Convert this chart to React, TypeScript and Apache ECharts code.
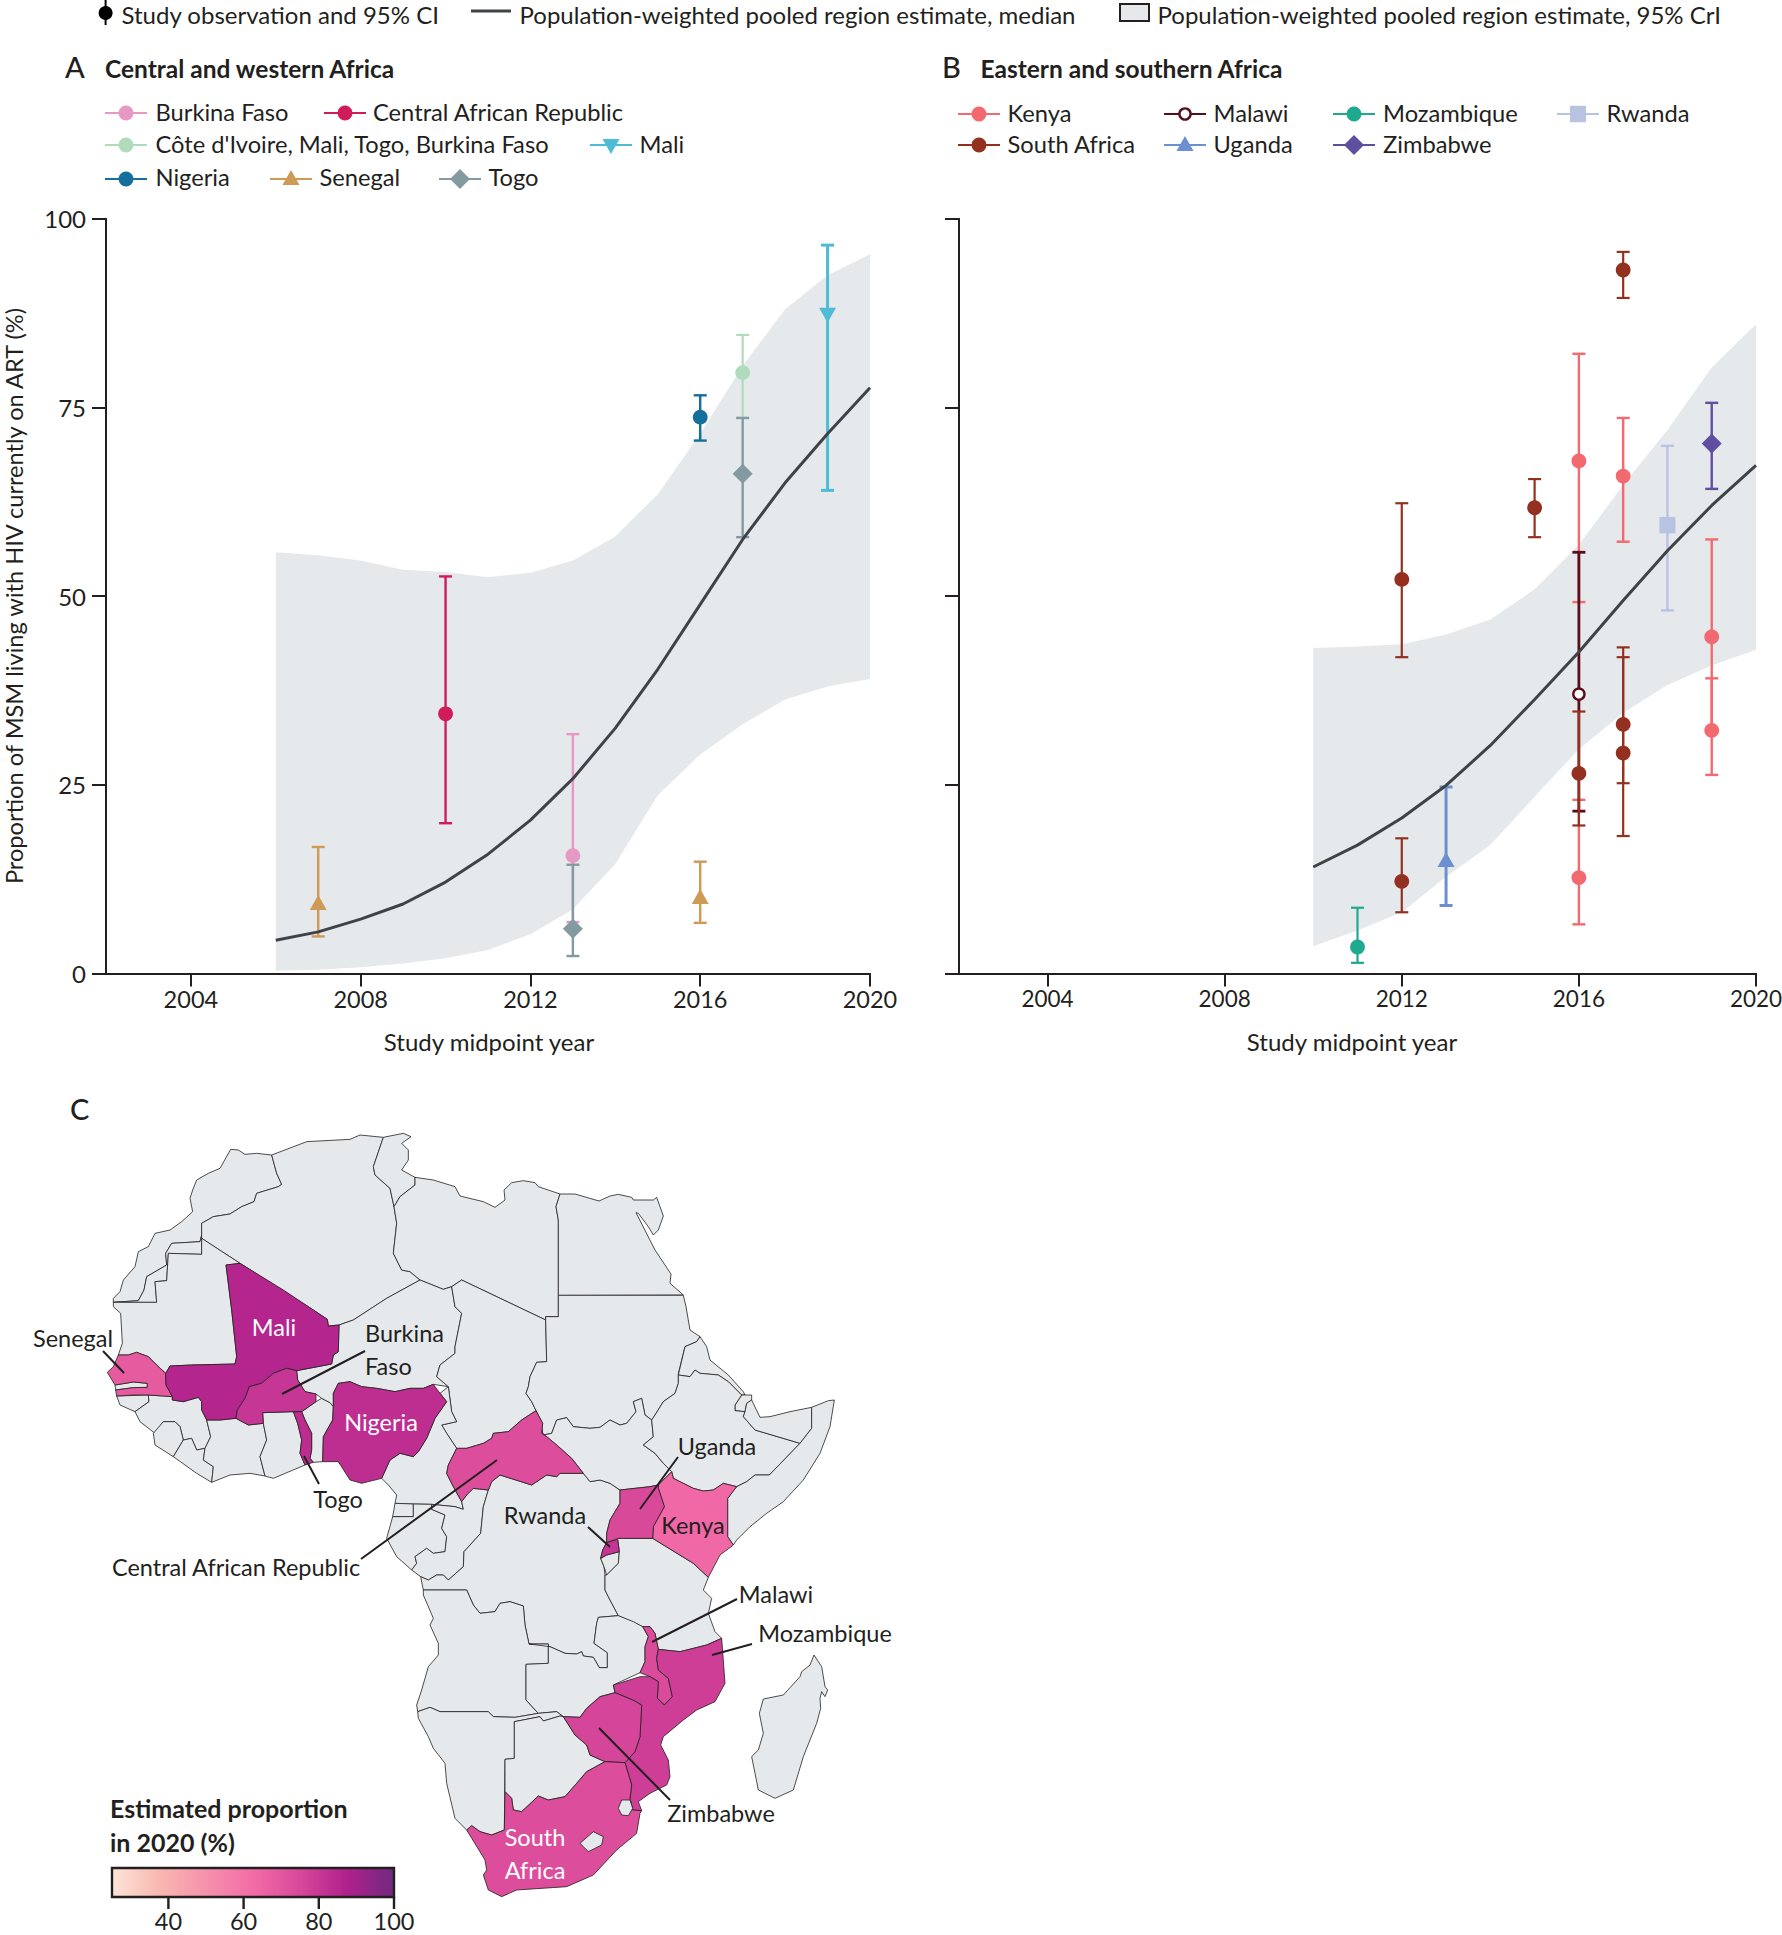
import React, { useEffect, useRef } from "react";
import * as echarts from "echarts";

const FONT = "Lato";
const INK = "#231f20";
const BAND = "#e6e9ec";

// Panel A – pooled estimate
const yearsA = [2006, 2007, 2008, 2009, 2010, 2011, 2012, 2013, 2014, 2015, 2016, 2017, 2018, 2019, 2020];
const medianA = [4.4, 5.5, 7.2, 9.2, 12.1, 15.8, 20.3, 25.8, 32.5, 40.3, 48.9, 57.5, 65, 71.5, 77.6];
const lowerA = [0.35, 0.5, 0.8, 1.3, 2, 3.1, 5.2, 8.5, 14.5, 23.6, 29, 33, 36.3, 38, 39];
const upperA = [55.8, 55.4, 54.7, 53.5, 53.2, 52.5, 53.1, 54.7, 57.9, 63.5, 71.5, 80.5, 88, 92.5, 95.3];

// Panel B – pooled estimate
const yearsB = [2010, 2011, 2012, 2013, 2014, 2015, 2016, 2017, 2018, 2019, 2020];
const medianB = [14.1, 17, 20.6, 24.9, 30.2, 36.3, 42.6, 49.4, 56, 62, 67.3];
const lowerB = [3.6, 5.7, 8.1, 12.8, 17, 23.4, 29.7, 34.5, 38.2, 40.8, 42.9];
const upperB = [43.1, 43.3, 43.6, 44.9, 46.9, 50.9, 56.8, 64.7, 72, 80.3, 86];

// Observations: [year, estimate, lower CI, upper CI]
const burkinaFaso = [[2013, 15.6, 6.8, 31.7]];
const centralAfricanRepublic = [[2010, 34.4, 19.9, 52.6]];
const coteGroup = [[2017, 79.6, 73.6, 84.6]];
const mali = [[2019, 87.4, 64, 96.5]];
const nigeria = [[2016, 73.7, 70.6, 76.6]];
const senegal = [[2007, 9.2, 4.9, 16.75], [2016, 10, 6.7, 14.8]];
const togo = [[2013, 5.9, 2.3, 14.4], [2017, 66.2, 57.8, 73.6]];
const kenya = [[2016, 67.9, 49.2, 82.1], [2016, 12.7, 6.5, 23], [2017, 65.9, 57.2, 73.6], [2019, 44.6, 32.2, 57.5], [2019, 32.2, 26.3, 39.1]];
const malawi = [[2016, 37, 21.5, 55.8]];
const mozambique = [[2011, 3.5, 1.4, 8.7]];
const rwanda = [[2018, 59.4, 48.1, 69.9]];
const southAfrica = [[2012, 52.2, 41.9, 62.3], [2012, 12.2, 8.1, 17.9], [2015, 61.7, 57.8, 65.5], [2016, 26.5, 19.6, 34.7], [2017, 93.2, 89.5, 95.6], [2017, 33, 25.2, 43.2], [2017, 29.2, 18.2, 41.9]];
const uganda = [[2013, 14.9, 9, 24.7]];
const zimbabwe = [[2019, 70.2, 64.2, 75.6]];

const xTicks = [2004, 2008, 2012, 2016, 2020];
const yTicks = [0, 25, 50, 75, 100];
const scaleTicks = [40, 60, 80, 100];

// Estimated proportion in 2020, by country
const estimateNames = ["Kenya", "Senegal", "Central African Republic", "South Africa", "Uganda", "Zimbabwe", "Mozambique", "Malawi", "Burkina Faso", "Rwanda", "Nigeria", "Togo", "Mali"];
const estimateValues = [64, 68.5, 73, 73, 74.5, 76, 78, 74, 80.5, 81, 83, 83.5, 86];
const scaleColors = ["#FDE5D8", "#F8B8B0", "#F592AD", "#F36CA6", "#D8489A", "#B0208C", "#702A80"];

// Map geometry, map units (three units per pixel)
type P = number[];
const shiftE = (pts: P[]) => pts.map(([x, y]) => [x + 1350, y + 1230]);
const countries: [string, P[]][] = [
  ["Morocco", [[815,195],[770,190],[735,193],[715,180],[692,178],[660,235],[625,250],[590,270],[578,300],[570,325],[578,365],[545,395],[510,420],[465,430],[445,470],[415,485],[405,530],[370,570],[360,605],[340,625],[340,637],[415,632],[432,600],[440,560],[500,525],[497,490],[515,460],[600,455],[605,435],[605,400],[640,380],[690,372],[725,350],[762,335],[770,310],[835,290],[845,283],[830,250]]],
  ["Western Sahara", [[340,637],[415,632],[432,600],[440,560],[500,525],[497,490],[515,460],[600,455],[605,435],[605,493],[505,490],[500,572],[465,575],[470,637]]],
  ["Algeria", [[815,195],[830,250],[845,283],[835,290],[770,310],[762,335],[725,350],[690,372],[640,380],[605,400],[605,445],[720,520],[940,660],[982,688],[985,708],[1017,705],[1060,690],[1160,625],[1260,570],[1230,545],[1205,540],[1180,490],[1190,400],[1182,350],[1170,295],[1125,255],[1120,230],[1150,142],[1080,135],[1050,148],[920,155]]],
  ["Tunisia", [[1150,142],[1210,130],[1233,140],[1205,160],[1225,180],[1225,210],[1205,240],[1245,262],[1245,285],[1200,320],[1182,350],[1170,295],[1125,255],[1120,230]]],
  ["Libya", [[1245,262],[1300,270],[1365,290],[1380,318],[1450,335],[1485,352],[1515,330],[1512,300],[1535,278],[1570,272],[1605,278],[1615,290],[1680,312],[1668,350],[1675,390],[1675,616],[1675,680],[1637,680],[1637,690],[1385,570],[1355,590],[1330,598],[1260,570],[1230,545],[1205,540],[1180,490],[1190,400],[1182,350],[1200,320],[1245,285]]],
  ["Egypt", [[1680,312],[1725,312],[1797,333],[1830,318],[1855,313],[1895,322],[1900,330],[1960,330],[1970,322],[1990,378],[1975,420],[1960,435],[1945,410],[1915,370],[1908,368],[1965,480],[2013,552],[2010,580],[2050,615],[1675,616],[1675,390],[1668,350]]],
  ["Mauritania", [[340,637],[470,637],[465,575],[500,572],[505,490],[605,493],[605,445],[720,520],[678,525],[695,660],[710,800],[705,822],[575,825],[510,828],[497,850],[470,825],[445,800],[410,787],[385,795],[355,795],[367,760],[362,670],[340,650]]],
  ["Gambia", [[345,885],[400,876],[442,880],[442,892],[400,893],[347,900]]],
  ["Guinea-Bissau", [[350,918],[445,915],[447,935],[405,965],[360,945]]],
  ["Guinea", [[445,915],[490,918],[517,920],[517,930],[550,935],[595,922],[605,935],[605,960],[620,990],[632,1040],[615,1075],[590,1080],[575,1045],[550,1050],[540,1010],[525,995],[490,995],[465,1030],[420,995],[405,965],[447,935]]],
  ["Sierra Leone", [[460,1030],[490,995],[525,995],[540,1010],[550,1050],[520,1100],[465,1065]]],
  ["Liberia", [[520,1100],[550,1050],[575,1045],[590,1080],[615,1075],[610,1110],[640,1130],[635,1177],[590,1150]]],
  ["Côte d'Ivoire", [[620,990],[660,990],[708,985],[745,1005],[790,1000],[800,1050],[780,1100],[795,1158],[750,1150],[690,1155],[635,1177],[640,1130],[610,1110],[615,1075],[632,1040]]],
  ["Ghana", [[790,1000],[800,1050],[780,1100],[795,1158],[820,1165],[915,1125],[900,1090],[905,1050],[893,1000],[880,965],[788,968]]],
  ["Benin", [[905,965],[948,935],[965,925],[990,938],[1000,950],[998,990],[970,1040],[968,1115],[940,1117],[930,1105],[935,1080],[935,1030],[915,990]]],
  ["Niger", [[1017,705],[1060,690],[1160,625],[1260,570],[1330,598],[1355,590],[1365,650],[1385,670],[1365,770],[1365,790],[1320,825],[1310,860],[1345,890],[1300,883],[1270,895],[1230,895],[1185,905],[1130,895],[1085,890],[1050,875],[1015,880],[1000,910],[1000,950],[990,938],[965,925],[948,912],[915,905],[893,870],[890,842],[995,822],[1000,795],[1015,785]]],
  ["Chad", [[1355,590],[1385,570],[1637,690],[1640,815],[1610,817],[1590,860],[1585,890],[1578,910],[1595,935],[1608,962],[1565,990],[1525,1025],[1480,1030],[1475,1045],[1450,1060],[1400,1075],[1370,1075],[1340,1030],[1325,1005],[1370,995],[1355,965],[1345,890],[1310,860],[1320,825],[1365,790],[1365,770],[1385,670],[1365,650]]],
  ["Cameroon", [[1345,890],[1320,910],[1340,935],[1305,985],[1280,1045],[1255,1085],[1240,1100],[1200,1090],[1170,1110],[1145,1165],[1165,1185],[1190,1215],[1185,1240],[1240,1242],[1295,1243],[1365,1250],[1390,1258],[1385,1235],[1360,1190],[1340,1150],[1345,1125],[1370,1075],[1340,1030],[1325,1005],[1370,995],[1355,965]]],
  ["Equatorial Guinea", [[1185,1240],[1240,1242],[1240,1280],[1178,1280]]],
  ["Gabon", [[1178,1280],[1240,1280],[1240,1242],[1295,1243],[1295,1258],[1335,1275],[1325,1315],[1340,1340],[1335,1385],[1300,1390],[1280,1375],[1245,1400],[1250,1420],[1235,1440],[1190,1400],[1160,1345]]],
  ["Congo", [[1295,1243],[1365,1250],[1390,1258],[1385,1235],[1400,1215],[1420,1195],[1465,1200],[1450,1250],[1442,1330],[1392,1385],[1390,1430],[1345,1470],[1330,1455],[1310,1455],[1285,1470],[1262,1460],[1235,1440],[1250,1420],[1245,1400],[1280,1375],[1300,1390],[1335,1385],[1340,1340],[1325,1315],[1335,1275],[1295,1258]]],
  ["Democratic Republic of the Congo", [[1465,1200],[1475,1175],[1500,1155],[1595,1185],[1640,1155],[1670,1160],[1680,1150],[1750,1150],[1770,1175],[1800,1170],[1830,1180],[1860,1200],[1860,1240],[1830,1290],[1820,1330],[1820,1358],[1808,1380],[1802,1405],[1812,1430],[1815,1455],[1815,1500],[1830,1530],[1855,1577],[1795,1582],[1790,1600],[1782,1660],[1822,1688],[1822,1733],[1798,1733],[1780,1702],[1750,1698],[1745,1685],[1730,1692],[1695,1690],[1650,1670],[1587,1662],[1575,1605],[1570,1548],[1530,1535],[1500,1540],[1485,1565],[1440,1570],[1420,1545],[1400,1500],[1270,1500],[1262,1460],[1285,1470],[1310,1455],[1330,1455],[1345,1470],[1390,1430],[1392,1385],[1442,1330],[1450,1250]]],
  ["Sudan", [[1675,616],[2050,616],[2058,650],[2070,720],[2100,740],[2090,755],[2055,770],[2035,850],[2035,880],[2025,910],[1990,935],[1965,975],[1955,990],[1935,975],[1925,925],[1900,935],[1908,965],[1880,1000],[1860,1005],[1830,990],[1800,1012],[1770,1015],[1720,1010],[1700,983],[1670,990],[1655,1030],[1630,1035],[1608,962],[1595,935],[1578,910],[1585,890],[1590,860],[1610,817],[1640,815],[1637,690],[1637,680],[1675,680]]],
  ["South Sudan", [[1608,962],[1630,1035],[1655,1030],[1670,990],[1700,983],[1720,1010],[1770,1015],[1800,1012],[1830,990],[1860,1005],[1880,1000],[1908,965],[1900,935],[1925,925],[1935,975],[1955,990],[1960,1040],[1930,1065],[1965,1090],[1990,1120],[2015,1145],[1975,1185],[1950,1190],[1860,1200],[1830,1180],[1800,1170],[1770,1175],[1750,1150],[1715,1105],[1670,1065],[1640,1040],[1625,1030],[1628,1000]]],
  ["Eritrea", [[2100,740],[2120,770],[2130,810],[2185,855],[2230,905],[2235,915],[2225,915],[2185,875],[2155,855],[2100,850],[2085,840],[2070,860],[2035,855],[2055,770],[2090,755]]],
  ["Djibouti", [[2225,915],[2255,915],[2255,930],[2240,940],[2235,965],[2205,962],[2205,945]]],
  ["Ethiopia", [[2035,855],[2070,860],[2085,840],[2100,850],[2155,855],[2185,875],[2225,915],[2205,945],[2205,962],[2235,965],[2230,980],[2265,1020],[2400,1060],[2308,1155],[2265,1155],[2240,1175],[2210,1190],[2170,1180],[2140,1200],[2110,1203],[2080,1195],[2020,1165],[2015,1145],[1990,1120],[1965,1090],[1930,1065],[1960,1040],[1955,990],[1965,975],[1990,935],[2025,910],[2035,880]]],
  ["Somaliland", [[2255,930],[2280,982],[2310,980],[2370,965],[2435,952],[2435,1015],[2400,1060],[2265,1020],[2230,980],[2235,965],[2240,940]]],
  ["Somalia", [[2435,952],[2485,932],[2503,930],[2490,1010],[2460,1090],[2410,1170],[2350,1235],[2300,1270],[2250,1310],[2210,1350],[2200,1365],[2183,1340],[2183,1225],[2210,1190],[2240,1175],[2265,1155],[2308,1155],[2400,1060],[2435,1015]]],
  ["Burundi", [[1802,1405],[1820,1395],[1858,1385],[1855,1420],[1820,1455],[1812,1430]]],
  ["Tanzania", [[1855,1345],[1958,1345],[2080,1420],[2125,1462],[2110,1500],[2135,1525],[2125,1570],[2145,1625],[2165,1645],[2120,1665],[2040,1685],[1975,1678],[1965,1630],[1950,1610],[1928,1610],[1855,1577],[1830,1530],[1815,1500],[1815,1455],[1820,1455],[1855,1420],[1858,1385],[1853,1348]]],
  ["Angola", [[1270,1515],[1270,1500],[1400,1500],[1420,1545],[1440,1570],[1485,1565],[1500,1540],[1530,1535],[1570,1548],[1575,1605],[1587,1662],[1645,1662],[1645,1720],[1578,1723],[1578,1830],[1615,1870],[1545,1882],[1480,1880],[1465,1865],[1320,1865],[1290,1852],[1253,1865],[1250,1845],[1265,1800],[1285,1730],[1315,1695],[1315,1660],[1290,1605],[1300,1585]]],
  ["Zambia", [[1587,1662],[1650,1670],[1695,1690],[1730,1692],[1745,1685],[1750,1698],[1780,1702],[1798,1733],[1822,1733],[1822,1688],[1782,1660],[1790,1600],[1795,1582],[1855,1577],[1900,1595],[1928,1610],[1945,1640],[1935,1670],[1935,1715],[1920,1748],[1840,1785],[1845,1808],[1800,1820],[1760,1855],[1740,1882],[1690,1880],[1670,1865],[1615,1870],[1578,1830],[1578,1723],[1645,1720],[1645,1662]]],
  ["Namibia", [[1253,1865],[1290,1852],[1320,1865],[1465,1865],[1480,1880],[1545,1882],[1615,1870],[1670,1865],[1690,1880],[1680,1878],[1630,1893],[1620,1880],[1543,1895],[1543,2005],[1515,2008],[1513,2220],[1475,2235],[1440,2225],[1415,2207],[1400,2220],[1365,2185],[1340,2080],[1335,2020],[1300,1975],[1285,1940],[1255,1885]]],
  ["Botswana", [[1515,2105],[1515,2008],[1543,2005],[1543,1895],[1620,1880],[1630,1893],[1680,1878],[1690,1880],[1725,1935],[1760,1965],[1770,1995],[1815,2015],[1760,2045],[1730,2080],[1695,2120],[1645,2130],[1615,2118],[1565,2165],[1540,2160],[1535,2125]]],
  ["Madagascar", shiftE([[1092,465],[1115,500],[1125,560],[1133,570],[1125,590],[1115,575],[1110,595],[1112,625],[1100,670],[1060,770],[1030,870],[975,895],[925,870],[915,820],[905,770],[925,750],[940,700],[928,640],[940,597],[1000,585],[1050,530],[1055,515],[1080,495]])],
  ["Senegal", [[355,795],[385,795],[410,787],[445,800],[470,825],[497,850],[498,885],[517,920],[490,918],[445,915],[400,915],[350,918],[347,900],[400,893],[442,892],[442,880],[400,876],[345,885],[322,847],[340,830]]],
  ["Mali", [[678,525],[720,520],[850,600],[940,660],[982,688],[985,708],[1017,705],[1015,785],[1000,795],[995,822],[890,842],[860,835],[820,850],[785,880],[748,890],[735,925],[712,960],[708,985],[660,990],[620,990],[605,960],[605,935],[595,922],[550,935],[517,930],[517,920],[498,885],[497,850],[510,828],[575,825],[705,822],[710,800],[695,660]]],
  ["Burkina Faso", [[890,842],[860,835],[820,850],[785,880],[748,890],[735,925],[712,960],[708,985],[745,1005],[790,1000],[788,968],[880,965],[905,965],[948,935],[948,912],[915,905],[893,870]]],
  ["Togo", [[880,965],[905,965],[915,990],[935,1030],[935,1080],[930,1105],[940,1117],[915,1125],[900,1090],[905,1050],[893,1000]]],
  ["Nigeria", [[1015,880],[1050,875],[1085,890],[1130,895],[1185,905],[1230,895],[1270,895],[1300,883],[1320,910],[1340,935],[1305,985],[1280,1045],[1255,1085],[1240,1100],[1200,1090],[1170,1110],[1145,1165],[1085,1180],[1050,1170],[1015,1115],[968,1115],[970,1040],[998,990],[1000,950],[1000,910]]],
  ["Central African Republic", [[1608,962],[1628,1000],[1625,1030],[1640,1040],[1670,1065],[1715,1105],[1750,1150],[1680,1150],[1670,1160],[1640,1155],[1595,1185],[1500,1155],[1475,1175],[1465,1200],[1420,1195],[1400,1215],[1385,1235],[1360,1190],[1340,1150],[1345,1125],[1370,1075],[1400,1075],[1450,1060],[1475,1045],[1480,1030],[1525,1025],[1565,990]]],
  ["Kenya", [[1975,1185],[2015,1145],[2020,1165],[2080,1195],[2110,1203],[2140,1200],[2170,1180],[2210,1190],[2183,1225],[2183,1340],[2200,1365],[2160,1395],[2125,1462],[2080,1420],[1958,1345],[1960,1310],[1993,1250],[1975,1195]]],
  ["Uganda", [[1860,1200],[1950,1190],[1975,1185],[1975,1195],[1993,1250],[1960,1310],[1958,1345],[1855,1345],[1820,1358],[1820,1330],[1830,1290],[1860,1240]]],
  ["Rwanda", [[1820,1358],[1853,1348],[1858,1385],[1820,1395],[1802,1405],[1808,1380]]],
  ["Malawi", shiftE([[578,380],[600,380],[615,400],[625,448],[620,475],[625,510],[655,535],[667,590],[643,615],[622,595],[625,545],[600,530],[570,518],[585,485],[585,440],[595,410]])],
  ["Mozambique", shiftE([[815,415],[825,550],[795,605],[740,630],[700,660],[640,710],[632,735],[655,780],[660,830],[650,855],[600,880],[565,905],[575,932],[548,930],[540,895],[545,855],[525,788],[555,755],[570,710],[575,615],[548,600],[495,578],[490,555],[570,530],[600,530],[625,545],[622,595],[643,615],[667,590],[655,535],[625,510],[620,475],[625,448],[690,455],[770,435]])],
  ["Zimbabwe", shiftE([[340,650],[390,652],[410,625],[450,590],[495,578],[548,600],[575,615],[570,710],[555,755],[525,788],[465,785],[420,765],[410,735],[375,705]])],
  ["South Africa", shiftE([[165,875],[185,895],[190,930],[215,935],[265,888],[295,900],[345,890],[380,850],[410,815],[465,785],[525,788],[545,855],[540,895],[548,930],[575,932],[570,940],[560,1000],[500,1050],[430,1125],[350,1160],[200,1170],[155,1190],[115,1170],[100,1125],[110,1110],[105,1080],[50,990],[65,977],[90,995],[125,1005],[163,990]])],
  ["Lesotho", shiftE([[390,1030],[430,995],[460,1010],[455,1035],[415,1055]])],
  ["Eswatini", shiftE([[515,900],[540,900],[548,925],[535,947],[515,945],[505,925]])],
];

function marker(shape: string, cx: number, cy: number, color: string): any {
  const style = { fill: color };
  if (shape === "triangle") return { type: "polygon", shape: { points: [[cx, cy - 9], [cx + 8.5, cy + 6], [cx - 8.5, cy + 6]] }, style };
  if (shape === "down") return { type: "polygon", shape: { points: [[cx, cy + 9], [cx + 8.5, cy - 6], [cx - 8.5, cy - 6]] }, style };
  if (shape === "diamond") return { type: "polygon", shape: { points: [[cx, cy - 10], [cx + 10, cy], [cx, cy + 10], [cx - 10, cy]] }, style };
  if (shape === "square") return { type: "rect", shape: { x: cx - 8, y: cy - 8.2, width: 16, height: 16.4 }, style };
  if (shape === "hollow") return { type: "circle", shape: { cx, cy, r: 5.6 }, style: { fill: "#fff", stroke: color, lineWidth: 2.4 } };
  return { type: "circle", shape: { cx, cy, r: 7.4 }, style };
}

function errorSeries(name: string, data: number[][], shape: string, color: string, lw: number, gridIndex: number) {
  return {
    type: "custom",
    name,
    xAxisIndex: gridIndex,
    yAxisIndex: gridIndex,
    coordinateSystem: "cartesian2d",
    clip: false,
    silent: true,
    data,
    encode: { x: 0, y: [1, 2, 3] },
    renderItem: (_: any, api: any) => {
      const x = api.value(0);
      const c = api.coord([x, api.value(1)]);
      const lo = api.coord([x, api.value(2)]);
      const hi = api.coord([x, api.value(3)]);
      const st = { stroke: color, lineWidth: lw };
      return {
        type: "group",
        children: [
          { type: "line", shape: { x1: c[0], y1: lo[1], x2: c[0], y2: hi[1] }, style: st },
          { type: "line", shape: { x1: c[0] - 6.5, y1: lo[1], x2: c[0] + 6.5, y2: lo[1] }, style: st },
          { type: "line", shape: { x1: c[0] - 6.5, y1: hi[1], x2: c[0] + 6.5, y2: hi[1] }, style: st },
          marker(shape, c[0], c[1], color),
        ],
      };
    },
  };
}

function bandSeries(years: number[], lower: number[], upper: number[], gridIndex: number) {
  return {
    type: "custom",
    name: "Population-weighted pooled region estimate, 95% CrI",
    xAxisIndex: gridIndex,
    yAxisIndex: gridIndex,
    silent: true,
    clip: false,
    data: years.map((y, i) => [y, lower[i], upper[i]]),
    encode: { x: 0, y: [1, 2] },
    renderItem: (p: any, api: any) => {
      if (p.dataIndex !== 0) return null;
      const top = years.map((y, i) => api.coord([y, upper[i]]));
      const bottom = years.map((y, i) => api.coord([y, lower[i]])).reverse();
      return { type: "polygon", shape: { points: top.concat(bottom) }, style: { fill: BAND } };
    },
  };
}

function medianSeries(years: number[], median: number[], gridIndex: number) {
  return {
    type: "line",
    name: "Population-weighted pooled region estimate, median",
    xAxisIndex: gridIndex,
    yAxisIndex: gridIndex,
    data: years.map((y, i) => [y, median[i]]),
    showSymbol: false,
    silent: true,
    lineStyle: { color: "#3f4347", width: 3 },
  };
}

const text = (x: number, y: number, t: string, opt: any = {}) => ({
  type: "text",
  z: 20,
  silent: true,
  x,
  y,
  style: {
    text: t,
    fill: opt.fill || INK,
    font: `${opt.weight || "normal"} ${opt.size || 23.5}px ${FONT}`,
    textAlign: opt.align || "left",
    textVerticalAlign: "middle",
    verticalAlign: "middle",
  },
});

const seg = (x1: number, y1: number, x2: number, y2: number, lw = 2, color = INK) => ({
  type: "line",
  z: 20,
  silent: true,
  shape: { x1, y1, x2, y2 },
  style: { stroke: color, lineWidth: lw },
});

const legendItem = (x: number, y: number, textX: number, label: string, shape: string, color: string, textY = y - 1) => [
  seg(x, y, x + 42, y, 2.2, color),
  { ...marker(shape, x + 21, y, color), z: 21, silent: true },
  text(textX, textY, label, { size: 23.7 }),
];

function axes(showY: boolean, gridIndex: number, labelSize: number, namePadding: number[]) {
  const lineStyle = { color: INK, width: 2 };
  return {
    x: {
      type: "value",
      gridIndex,
      min: 2002,
      max: 2020,
      interval: 2,
      splitLine: { show: false },
      axisLine: { show: true, onZero: false, lineStyle },
      axisTick: { show: true, length: 13, lineStyle, customValues: xTicks },
      axisLabel: { show: true, color: INK, fontFamily: FONT, fontSize: labelSize, margin: 14, customValues: xTicks, showMaxLabel: true, hideOverlap: false, formatter: (v: number) => String(v) },
      name: "Study midpoint year",
      nameLocation: "middle",
      nameGap: 56,
      nameTextStyle: { color: INK, fontFamily: FONT, fontSize: 24, padding: namePadding },
    },
    y: {
      type: "value",
      gridIndex,
      min: 0,
      max: 100,
      interval: 25,
      splitLine: { show: false },
      axisLine: { show: true, lineStyle },
      axisTick: { show: true, length: 14, lineStyle },
      axisLabel: { show: showY, color: INK, fontFamily: FONT, fontSize: 24, margin: 20, customValues: yTicks },
      name: showY ? "Proportion of MSM living with HIV currently on ART (%)" : "",
      nameLocation: "middle",
      nameGap: 80,
      nameRotate: 90,
      nameTextStyle: { color: INK, fontFamily: FONT, fontSize: 23.6 },
    },
  };
}

export default function App() {
  const ref = useRef<HTMLDivElement>(null);
  useEffect(() => {
    const chart = echarts.init(ref.current!, null, { renderer: "svg" });
    const features = countries.map(([name, pts]) => ({
      type: "Feature",
      properties: { name },
      geometry: { type: "Polygon", coordinates: [pts] },
    }));
    echarts.registerMap("africaStudy", { type: "FeatureCollection", features } as any);
    const all = countries.flatMap((c) => c[1]);
    const minU = Math.min(...all.map((p) => p[0]));
    const maxU = Math.max(...all.map((p) => p[0]));
    const minV = Math.min(...all.map((p) => p[1]));
    const maxV = Math.max(...all.map((p) => p[1]));

    const A = axes(true, 0, 23.5, [0, 0, 0, 2]);
    const B = axes(false, 1, 22.5, [0, 11, 0, 0]);
    const series: any[] = [
      bandSeries(yearsA, lowerA, upperA, 0),
      medianSeries(yearsA, medianA, 0),
      errorSeries("Burkina Faso", burkinaFaso, "circle", "#e699c2", 2.4, 0),
      errorSeries("Central African Republic", centralAfricanRepublic, "circle", "#d01c5b", 2.4, 0),
      errorSeries("Côte d'Ivoire, Mali, Togo, Burkina Faso", coteGroup, "circle", "#b1dcbc", 2.2, 0),
      errorSeries("Mali", mali, "down", "#4fbcd6", 3, 0),
      errorSeries("Nigeria", nigeria, "circle", "#156f9c", 2.4, 0),
      errorSeries("Senegal", senegal, "triangle", "#cf9a55", 2.4, 0),
      errorSeries("Togo", togo, "diamond", "#839aa1", 2.4, 0),
      bandSeries(yearsB, lowerB, upperB, 1),
      medianSeries(yearsB, medianB, 1),
      errorSeries("Kenya", kenya, "circle", "#f2696f", 2.4, 1),
      errorSeries("Malawi", malawi, "hollow", "#5a0d1c", 2.8, 1),
      errorSeries("Mozambique", mozambique, "circle", "#1fa98f", 2.2, 1),
      errorSeries("Rwanda", rwanda, "square", "#b8c3e2", 2.4, 1),
      errorSeries("South Africa", southAfrica, "circle", "#94301f", 2.2, 1),
      errorSeries("Uganda", uganda, "triangle", "#6a90cf", 3, 1),
      errorSeries("Zimbabwe", zimbabwe, "diamond", "#604ea1", 2.4, 1),
    ];
    const mapIndex = series.length;
    series.push({
      type: "map",
      name: "Estimated proportion in 2020 (%)",
      map: "africaStudy",
      projection: { project: (p: number[]) => p, unproject: (p: number[]) => p },
      left: minU / 3,
      top: 1090 + minV / 3,
      width: (maxU - minU) / 3,
      height: (maxV - minV) / 3,
      roam: false,
      silent: true,
      label: { show: false },
      emphasis: { disabled: true },
      select: { disabled: true },
      selectedMode: false,
      itemStyle: { areaColor: BAND, borderColor: INK, borderWidth: 0.8 },
      data: estimateNames.map((name, i) => ({ name, value: estimateValues[i] })),
    });

    const graphics: any[] = [
      // Key on top
      seg(105.6, 0, 105.6, 25, 2, "#000"),
      { type: "circle", z: 21, silent: true, shape: { cx: 105.6, cy: 13, r: 7 }, style: { fill: "#000" } },
      text(121.5, 14, "Study observation and 95% CI", { size: 24 }),
      seg(471, 11, 511, 11, 3, "#3f4347"),
      text(519.5, 14, "Population-weighted pooled region estimate, median", { size: 24 }),
      { type: "rect", z: 20, silent: true, shape: { x: 1120, y: 4, width: 29, height: 17 }, style: { fill: BAND, stroke: INK, lineWidth: 2 } },
      text(1157.5, 14, "Population-weighted pooled region estimate, 95% CrI", { size: 24 }),
      // Panel titles
      text(65, 66, "A", { size: 29, weight: "500" }),
      text(105, 68, "Central and western Africa", { size: 24.5, weight: "bold" }),
      text(942, 66, "B", { size: 29, weight: "500" }),
      text(980.5, 68, "Eastern and southern Africa", { size: 24.5, weight: "bold" }),
      text(70, 1108, "C", { size: 29, weight: "500" }),
      // Panel A key
      ...legendItem(105, 113, 155.5, "Burkina Faso", "circle", "#e699c2"),
      ...legendItem(324, 113, 373, "Central African Republic", "circle", "#d01c5b"),
      ...legendItem(105, 145, 155.5, "Côte d'Ivoire, Mali, Togo, Burkina Faso", "circle", "#b1dcbc"),
      ...legendItem(590, 145, 639.5, "Mali", "down", "#4fbcd6"),
      ...legendItem(105, 179, 155.5, "Nigeria", "circle", "#156f9c", 177),
      ...legendItem(270, 179, 319.5, "Senegal", "triangle", "#cf9a55", 177),
      ...legendItem(439, 179, 488.5, "Togo", "diamond", "#839aa1", 177),
      // Panel B key
      ...legendItem(958, 114, 1007.5, "Kenya", "circle", "#f2696f"),
      ...legendItem(1164, 114, 1213.5, "Malawi", "hollow", "#5a0d1c"),
      ...legendItem(1333, 114, 1383, "Mozambique", "circle", "#1fa98f"),
      ...legendItem(1557, 114, 1606.5, "Rwanda", "square", "#b8c3e2"),
      ...legendItem(958, 145, 1007.5, "South Africa", "circle", "#94301f"),
      ...legendItem(1164, 145, 1213.5, "Uganda", "triangle", "#6a90cf"),
      ...legendItem(1333, 145, 1383, "Zimbabwe", "diamond", "#604ea1"),
      // Map labels and leaders
      text(33, 1338, "Senegal"),
      seg(103, 1351, 124, 1373),
      text(274, 1327, "Mali", { fill: "#fff", align: "center" }),
      text(365, 1333, "Burkina"),
      text(365, 1366, "Faso"),
      seg(365, 1351, 282, 1394),
      text(381, 1422, "Nigeria", { fill: "#fff", align: "center" }),
      text(338, 1499, "Togo", { align: "center" }),
      seg(319, 1484, 304, 1456),
      text(112, 1567, "Central African Republic"),
      seg(361, 1559, 497, 1460),
      text(545, 1515, "Rwanda", { align: "center" }),
      seg(588, 1527, 610, 1547),
      text(717, 1446, "Uganda", { align: "center" }),
      seg(678, 1457, 640, 1509),
      text(693, 1525, "Kenya", { align: "center" }),
      text(776, 1594, "Malawi", { align: "center" }),
      seg(737, 1599, 652, 1642),
      text(825, 1633, "Mozambique", { align: "center" }),
      seg(752, 1644, 712, 1655),
      text(721, 1813, "Zimbabwe", { align: "center" }),
      seg(670, 1800, 599, 1728),
      text(535, 1837, "South", { fill: "#fff", align: "center" }),
      text(535, 1870, "Africa", { fill: "#fff", align: "center" }),
      // Colour scale
      text(110, 1808, "Estimated proportion", { size: 25, weight: "bold" }),
      text(110, 1842, "in 2020 (%)", { size: 25, weight: "bold" }),
      { type: "rect", z: 22, silent: true, shape: { x: 112, y: 1868, width: 282, height: 29 }, style: { fill: "none", stroke: INK, lineWidth: 2.4 } },
      ...scaleTicks.flatMap((v) => {
        const x = 112 + ((v - 25) / 75) * 282;
        return [seg(x, 1897, x, 1909, 2.4), text(x, 1921, String(v), { size: 23.5, align: "center" })];
      }),
    ];

    chart.setOption({
      animation: false,
      backgroundColor: "#fff",
      grid: [
        { left: 106, top: 218.7, width: 764, height: 754.7, outerBoundsMode: "none" },
        { left: 959, top: 218.7, width: 797, height: 754.7, outerBoundsMode: "none" },
      ],
      xAxis: [A.x, B.x],
      yAxis: [A.y, B.y],
      visualMap: {
        type: "continuous",
        seriesIndex: mapIndex,
        min: 25,
        max: 100,
        orient: "horizontal",
        left: 112,
        top: 1868,
        padding: 0,
        itemWidth: 29,
        itemHeight: 282,
        calculable: false,
        hoverLink: false,
        showLabel: false,
        text: null,
        inRange: { color: scaleColors },
      },
      series,
      graphic: graphics,
    } as any);
    return () => chart.dispose();
  }, []);
  return <div ref={ref} style={{ position: "absolute", left: 0, top: 0, width: 1782, height: 1935 }} />;
}
